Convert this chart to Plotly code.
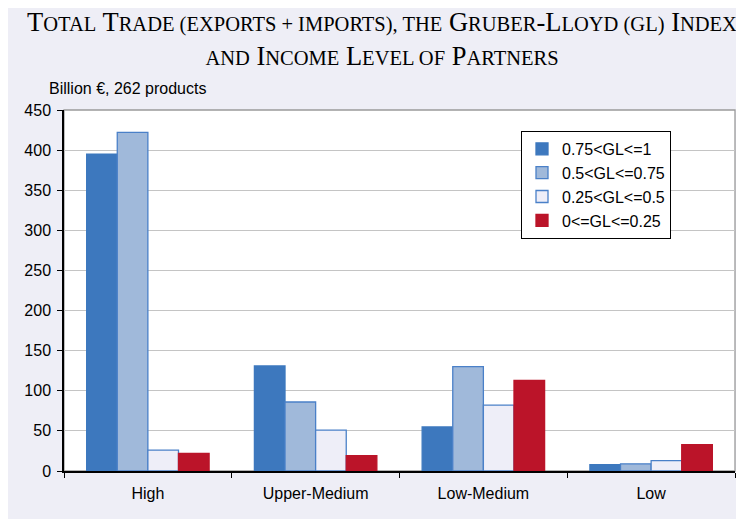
import plotly.graph_objects as go

categories = ["High", "Upper-Medium", "Low-Medium", "Low"]
series_names = ["0.75<GL<=1", "0.5<GL<=0.75", "0.25<GL<=0.5", "0<=GL<=0.25"]
gl_075_1 = [395, 131, 55, 8]
gl_05_075 = [422, 86, 130, 9]
gl_025_05 = [26, 51, 82, 13]
gl_0_025 = [22, 19, 113, 33]
y_ticks = [0, 50, 100, 150, 200, 250, 300, 350, 400, 450]

fills = ["#3D78BE", "#A0B9DA", "#EEEEF8", "#BB1429"]
edges = ["#3D78BE", "#4A80C8", "#4A80C8", "#BB1429"]

W, H = 744, 519
L, R, T, B = 56, 17, 102, 56
pw, ph = W - L - R, H - T - B

fig = go.Figure()
for name, vals, fc, ec in zip(series_names, [gl_075_1, gl_05_075, gl_025_05, gl_0_025], fills, edges):
    fig.add_trace(go.Bar(x=categories, y=vals, name=name,
                         marker=dict(color=fc, line=dict(color=ec, width=1.3))))

def sm(s):
    return f"<span style='font-size:20.5px'>{s}</span>"

title = ("T" + sm("OTAL") + " T" + sm("RADE (EXPORTS + IMPORTS), THE") + " G" + sm("RUBER") + "-L"
         + sm("LOYD (GL)") + " I" + sm("NDEX") + "<br>" + sm("AND") + " I" + sm("NCOME") + " L"
         + sm("EVEL OF") + " P" + sm("ARTNERS"))

def px_x(x):
    return (x - L) / pw

def px_y(y):
    return (H - B - y) / ph

fig.update_layout(
    width=W, height=H,
    margin=dict(l=L, r=R, t=T, b=B),
    paper_bgcolor="#EEEEF6",
    plot_bgcolor="white",
    barmode="group", bargap=0.27, bargroupgap=0,
    title=dict(text=title, x=374 / W, xanchor="center", y=1 - 23 / H, yanchor="top",
               yref="container",
               font=dict(family="Liberation Serif", size=26.5, color="black")),
    font=dict(family="Liberation Sans", size=16, color="black"),
    legend=dict(x=px_x(513), y=px_y(123), xanchor="left", yanchor="top",
                bgcolor="white", bordercolor="black", borderwidth=1,
                entrywidth=112, entrywidthmode="pixels",
                font=dict(size=16, family="Liberation Sans")),
    xaxis=dict(showline=True, linecolor="black", linewidth=1.5, ticks="outside",
               tickson="boundaries", ticklen=5, tickcolor="black",
               ticklabelstandoff=7,
               tickfont=dict(size=16), showgrid=False),
    yaxis=dict(range=[0, 450], tickvals=y_ticks, showline=True, linecolor="black",
               linewidth=1.5, ticks="outside", ticklen=5, tickcolor="black",
               ticklabelstandoff=3,
               gridcolor="#C4C4C4", gridwidth=1.3, tickfont=dict(size=16),
               zeroline=False),
    annotations=[dict(text="Billion €, 262 products", x=px_x(39), y=px_y(81),
                      xref="paper", yref="paper", xanchor="left", yanchor="middle",
                      showarrow=False, font=dict(size=16, family="Liberation Sans"))],
    shapes=[
        dict(type="rect", xref="paper", yref="paper", x0=0, x1=1, y0=0, y1=1,
             line=dict(color="#9A9A9A", width=1.3), layer="below"),
    ],
)

fig.write_html("out.html")
